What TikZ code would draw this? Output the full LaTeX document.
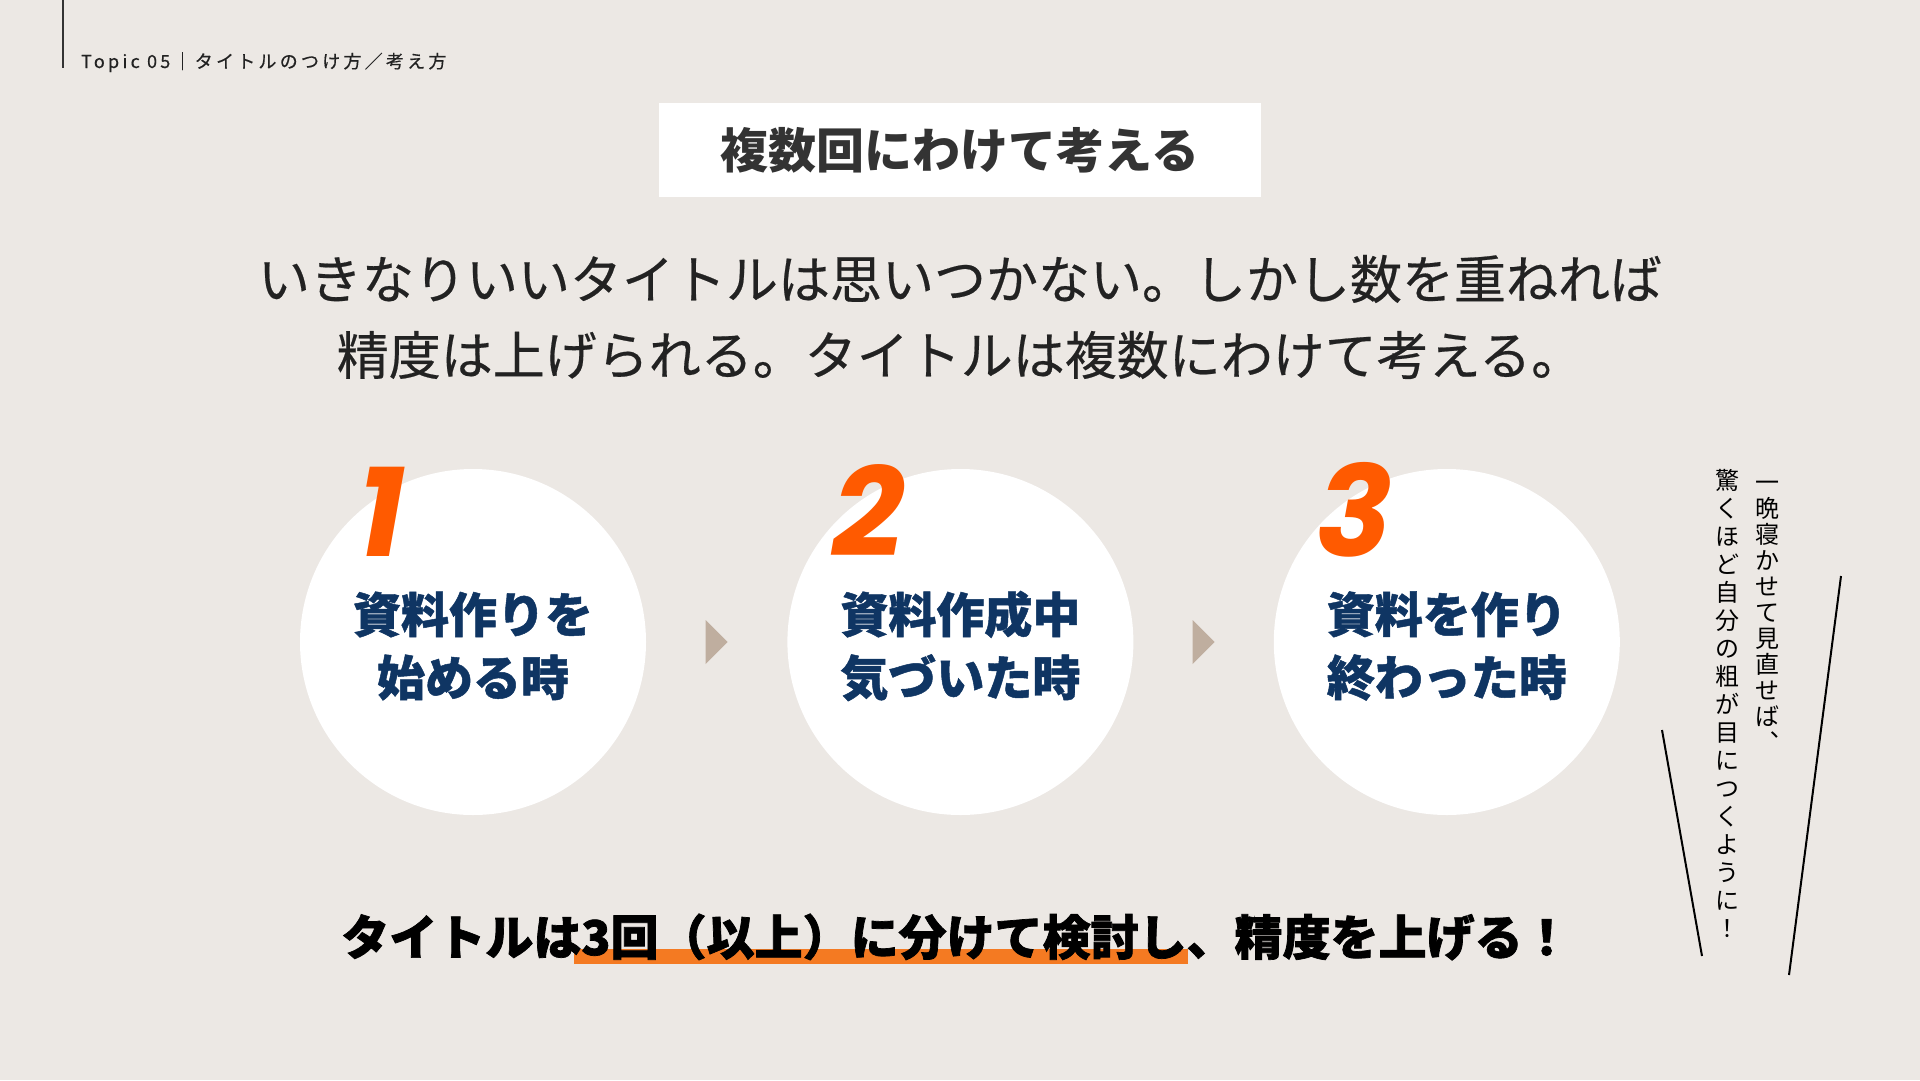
\documentclass[tikz,border=0pt]{standalone}
\usepackage{fontspec}
\setmainfont{Noto Sans CJK JP}
\newfontfamily\numfont{Poppins}
\usetikzlibrary{positioning}
\usetikzlibrary{calc}

\definecolor{bgbeige}{HTML}{ECE8E4}
\definecolor{headgray}{HTML}{333333}
\definecolor{titlegray}{HTML}{333333}
\definecolor{leadblack}{HTML}{222222}
\definecolor{stepnavy}{HTML}{0F3563}
\definecolor{numorange}{HTML}{FF5A00}
\definecolor{barorange}{HTML}{F47A22}
\definecolor{arrowtan}{HTML}{BFAE9F}

\begin{document}
\begin{tikzpicture}[x=1pt,y=-1pt,
    stepcircle/.style={circle, fill=white, minimum size=346pt, inner sep=0pt},
    steptext/.style={align=center, text=stepnavy, font=\fontsize{48}{63}\selectfont\bfseries\addfontfeatures{FakeBold=1}},
    stepnum/.style={anchor=base, inner sep=0pt, text=numorange, font=\numfont\fontsize{126}{126}\selectfont\bfseries\itshape},
    tatechar/.style={inner sep=0pt, text height=21pt, text depth=3pt, text=black, font=\fontsize{24}{24}\selectfont}]
  % background and page size
  \fill[bgbeige] (0,0) rectangle (1920,1080);
  \useasboundingbox (0,0) rectangle (1920,1080);

  % header
  \draw[headgray, line width=2pt] (63,0) -- (63,68);
  \node[anchor=base west, inner sep=0pt, text=leadblack,
        font=\fontsize{18}{18}\selectfont\addfontfeatures{LetterSpace=18,FakeBold=0.5}] (topic) at (81,68)
        {Topic 05｜タイトルのつけ方／考え方};

  % title and lead text
  \node[fill=white, minimum width=602pt, minimum height=94pt, text=titlegray,
        font=\fontsize{48}{48}\selectfont\bfseries] (title) at (960,150) {複数回にわけて考える};
  \node[align=center, text=leadblack, font=\fontsize{52}{76}\selectfont\addfontfeatures{FakeBold=0.4}] (lead) at (960,317)
        {いきなりいいタイトルは思いつかない。しかし数を重ねれば\\精度は上げられる。タイトルは複数にわけて考える。};

  % the three steps
  \node[stepcircle] (c1) at (473,642) {};
  \node[stepcircle, right=141pt of c1] (c2) {};
  \node[stepcircle, right=140pt of c2] (c3) {};
  \foreach \n/\t in {1/{資料作りを\\始める時}, 2/{資料作成中\\気づいた時}, 3/{資料を作り\\終わった時}} {
    \node[steptext] (t\n) at ($(c\n)+(0,4)$) {\t};
    \node[stepnum] (n\n) at ($(c\n)+(-92,-86)$) {\n};
  }
  \foreach \a/\b in {c1/c2, c2/c3} {
    \coordinate (m\a) at ($(\a)!0.5!(\b)$);
    \fill[arrowtan] ($(m\a)+(-11,-22)$) -- ($(m\a)+(11,0)$) -- ($(m\a)+(-11,22)$) -- cycle;
  }

  % summary line
  \fill[barorange] (574,949) rectangle (1188,964);
  \node[text=black, font=\fontsize{48}{48}\selectfont\bfseries\addfontfeatures{FakeBold=1.5}] (summary) at (956,937)
        {タイトルは3回（以上）に分けて検討し、精度を上げる！};

  % vertical note
  \foreach \c [count=\i] in {一,晩,寝,か,せ,て,見,直,せ,ば,︑}
    \node[tatechar] (r\i) at (1767,{456+26*\i}) {\c};
  \foreach \c [count=\i] in {驚,く,ほ,ど,自,分,の,粗,が,目,に,つ,く,よ,う,に,！}
    \node[tatechar] (l\i) at (1727,{452+28*\i}) {\c};
  \draw[line width=2pt] (1662,730) -- (1702,956);
  \draw[line width=2pt] (1841,576) -- (1789,975);
\end{tikzpicture}
\end{document}
